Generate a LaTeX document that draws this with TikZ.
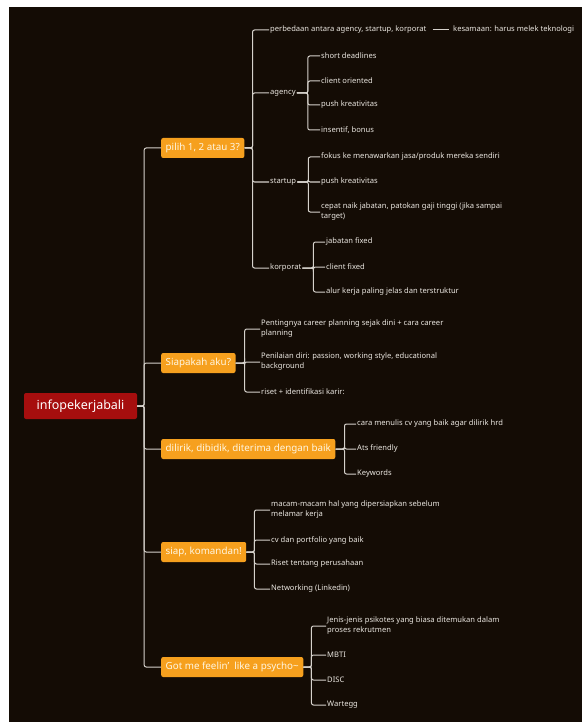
\documentclass[tikz,border=0pt]{standalone}
\usepackage{fontspec}
\setmainfont{Noto Sans}
\definecolor{bgdark}{RGB}{20,12,5}
\definecolor{rootred}{RGB}{166,14,14}
\definecolor{topicorange}{RGB}{246,160,30}
\definecolor{linegray}{RGB}{214,210,204}
\definecolor{leaftext}{RGB}{236,232,226}
\definecolor{topictext}{RGB}{255,246,225}

\begin{document}
\begin{tikzpicture}[x=1pt, y=-1pt,
    conn/.style={line width=1pt, color=linegray, rounded corners=2pt},
    rootbox/.style={fill=rootred, text=white, rounded corners=2pt, minimum height=26pt, minimum width=113pt, font=\fontsize{12.5}{14}\selectfont\bfseries},
    topic/.style={fill=topicorange, text=topictext, rounded corners=2pt, minimum height=20pt, inner xsep=4.5pt, anchor=west, font=\fontsize{9.8}{11}\selectfont},
    leaf/.style={text=leaftext, anchor=west, inner sep=1pt, align=left, font=\fontsize{7.6}{10}\selectfont}]

    \useasboundingbox (0,0) rectangle (582,722);
    \fill[white] (0,0) rectangle (582,722);
    \fill[bgdark] (9,7) rectangle (582,722);

    % root and main topics
    \node[rootbox] (root) at (80.5,406) {infopekerjabali};
    \node[topic] (pilih) at (161,148) {pilih 1, 2 atau 3?};
    \node[topic] (siapa) at (161,363) {Siapakah aku?};
    \node[topic] (lirik) at (161,449) {dilirik, dibidik, diterima dengan baik};
    \node[topic] (siap) at (161,552) {siap, komandan!};
    \node[topic] (psiko) at (161,667) {Got me feelin’\ \ like a psycho\textasciitilde};

    \foreach \t in {pilih,siapa,lirik,siap,psiko}
        \draw[conn] (root.east) -- ++(7,0) |- (\t.west);

    % pilih 1, 2 atau 3?
    \node[leaf] (beda) at (269,30) {perbedaan antara agency, startup, korporat};
    \node[leaf] (sama) at (452,30) {kesamaan: harus melek teknologi};
    \node[leaf] (agency) at (269,93) {agency};
    \node[leaf] (startup) at (269,182) {startup};
    \node[leaf] (korporat) at (269,268) {korporat};
    \foreach \c in {beda,agency,startup,korporat}
        \draw[conn] (pilih.east) -- ++(8,0) |- (\c.west);
    \draw[conn, shorten <=5pt, shorten >=3pt] (beda.east) -- (sama.west);

    \node[leaf] (ag1) at (320,56) {short deadlines};
    \node[leaf] (ag2) at (320,81) {client oriented};
    \node[leaf] (ag3) at (320,105) {push kreativitas};
    \node[leaf] (ag4) at (320,130) {insentif, bonus};
    \foreach \c in {ag1,ag2,ag3,ag4}
        \draw[conn] (agency.east) -- ++(11,0) |- (\c.west);

    \node[leaf] (st1) at (320,157) {fokus ke menawarkan jasa/produk mereka sendiri};
    \node[leaf] (st2) at (320,182) {push kreativitas};
    \node[leaf] (st3) at (320,212) {cepat naik jabatan, patokan gaji tinggi (jika sampai\\target)};
    \foreach \c in {st1,st2,st3}
        \draw[conn] (startup.east) -- ++(11,0) |- (\c.west);

    \node[leaf] (ko1) at (325,242) {jabatan fixed};
    \node[leaf] (ko2) at (325,267) {client fixed};
    \node[leaf] (ko3) at (325,292) {alur kerja paling jelas dan terstruktur};
    \foreach \c in {ko1,ko2,ko3}
        \draw[conn] (korporat.east) -- ++(11,0) |- (\c.west);

    % Siapakah aku?
    \node[leaf] (si1) at (260,329) {Pentingnya career planning sejak dini + cara career\\planning};
    \node[leaf] (si2) at (260,362) {Penilaian diri: passion, working style, educational\\background};
    \node[leaf] (si3) at (260,392) {riset + identifikasi karir:};
    \foreach \c in {si1,si2,si3}
        \draw[conn] (siapa.east) -- ++(9,0) |- (\c.west);

    % dilirik, dibidik, diterima dengan baik
    \node[leaf] (li1) at (356,424) {cara menulis cv yang baik agar dilirik hrd};
    \node[leaf] (li2) at (356,449) {Ats friendly};
    \node[leaf] (li3) at (356,474) {Keywords};
    \foreach \c in {li1,li2,li3}
        \draw[conn] (lirik.east) -- ++(9,0) |- (\c.west);

    % siap, komandan!
    \node[leaf] (sk1) at (270,510) {macam-macam hal yang dipersiapkan sebelum\\melamar kerja};
    \node[leaf] (sk2) at (270,540) {cv dan portfolio yang baik};
    \node[leaf] (sk3) at (270,564) {Riset tentang perusahaan};
    \node[leaf] (sk4) at (270,589) {Networking (Linkedin)};
    \foreach \c in {sk1,sk2,sk3,sk4}
        \draw[conn] (siap.east) -- ++(8,0) |- (\c.west);

    % Got me feelin'
    \node[leaf] (ps1) at (326,626) {Jenis-jenis psikotes yang biasa ditemukan dalam\\proses rekrutmen};
    \node[leaf] (ps2) at (326,655) {MBTI};
    \node[leaf] (ps3) at (326,680) {DISC};
    \node[leaf] (ps4) at (326,705) {Wartegg};
    \foreach \c in {ps1,ps2,ps3,ps4}
        \draw[conn] (psiko.east) -- ++(8,0) |- (\c.west);
\end{tikzpicture}
\end{document}
